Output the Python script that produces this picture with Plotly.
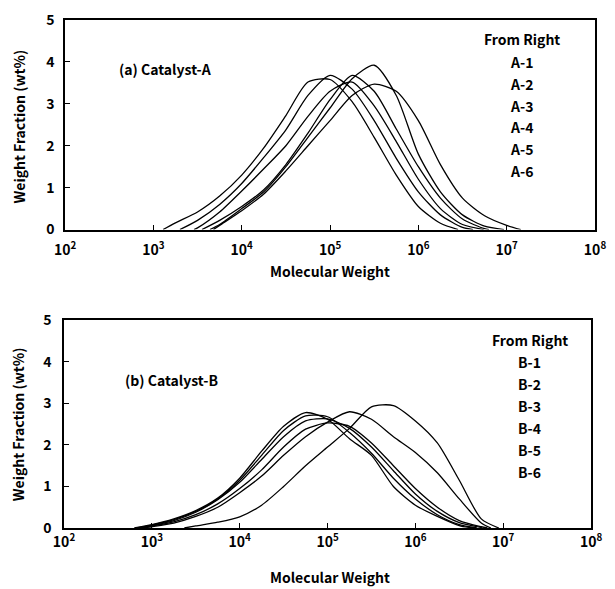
import plotly.graph_objects as go

# log10(molecular weight) grid shared by all curves
log_mw = [3.0, 3.25, 3.5, 3.75, 4.0, 4.25, 4.5, 4.75, 5.0, 5.25,
          5.5, 5.75, 6.0, 6.25, 6.5, 6.75, 7.0]

# Catalyst-A: log10(M) where each curve leaves / returns to the baseline
a_names = ["A-1", "A-2", "A-3", "A-4", "A-5", "A-6"]
a_start = [3.68, 3.64, 3.55, 3.46, 3.30, 3.11]
a_end = [7.16, 6.97, 6.80, 6.74, 6.62, 6.45]
# Catalyst-A weight fractions (wt%) on the grid
a1 = [None, None, None, 0.10, 0.45, 0.85, 1.40, 2.00, 2.60, 3.20, 3.47, 3.30, 2.60, 1.55, 0.75, 0.33, 0.10]
a2 = [None, None, None, 0.12, 0.50, 0.90, 1.50, 2.20, 2.90, 3.60, 3.92, 3.20, 1.80, 0.90, 0.35, 0.08, None]
a3 = [None, None, None, 0.22, 0.55, 0.95, 1.55, 2.30, 3.10, 3.68, 3.30, 2.40, 1.50, 0.75, 0.25, 0.02, None]
a4 = [None, None, 0.04, 0.42, 0.92, 1.45, 2.00, 2.70, 3.30, 3.52, 2.95, 2.10, 1.20, 0.50, 0.12, None, None]
a5 = [None, None, 0.22, 0.60, 1.10, 1.72, 2.38, 3.20, 3.68, 3.35, 2.60, 1.70, 0.90, 0.35, 0.05, None, None]
a6 = [None, 0.16, 0.42, 0.80, 1.30, 1.95, 2.72, 3.52, 3.58, 3.05, 2.20, 1.30, 0.55, 0.15, None, None, None]

# Catalyst-B: baseline crossings and weight fractions (wt%)
b_names = ["B-1", "B-2", "B-3", "B-4", "B-5", "B-6"]
b_start = [3.37, 2.90, 2.86, 2.84, 2.82, 2.80]
b_end = [6.95, 6.86, 6.82, 6.76, 6.70, 6.66]
b1 = [None, None, 0.05, 0.14, 0.27, 0.55, 1.00, 1.50, 1.95, 2.40, 2.92, 2.95, 2.58, 2.05, 1.15, 0.22, None]
b2 = [0.03, 0.12, 0.28, 0.50, 0.85, 1.25, 1.75, 2.20, 2.55, 2.80, 2.62, 2.20, 1.82, 1.33, 0.70, 0.12, None]
b3 = [0.05, 0.15, 0.32, 0.58, 0.95, 1.40, 1.95, 2.38, 2.53, 2.45, 2.05, 1.50, 0.95, 0.50, 0.18, 0.03, None]
b4 = [0.06, 0.18, 0.38, 0.68, 1.10, 1.65, 2.20, 2.58, 2.63, 2.40, 1.95, 1.38, 0.82, 0.40, 0.13, 0.01, None]
b5 = [0.07, 0.20, 0.40, 0.70, 1.15, 1.75, 2.35, 2.70, 2.68, 2.30, 1.80, 1.20, 0.70, 0.32, 0.08, None, None]
b6 = [0.08, 0.22, 0.42, 0.72, 1.20, 1.85, 2.45, 2.78, 2.62, 2.15, 1.75, 1.00, 0.55, 0.28, 0.06, None, None]

x_tick_vals = [1e2, 1e3, 1e4, 1e5, 1e6, 1e7, 1e8]
x_tick_text = ["10<sup>2</sup>", "10<sup>3</sup>", "10<sup>4</sup>", "10<sup>5</sup>",
               "10<sup>6</sup>", "10<sup>7</sup>", "10<sup>8</sup>"]
y_tick_vals = [0, 1, 2, 3, 4, 5]

FONT = "Noto Sans CJK JP"
TXT = dict(family=FONT, size=14, color="black", weight="bold")

fig = go.Figure()


def add_curves(series, starts, ends, names, xa, ya):
    for ys, s, e, nm in zip(series, starts, ends, names):
        lx = [s] + [g for g, w in zip(log_mw, ys) if w is not None and s < g < e] + [e]
        lw = [0.0] + [w for g, w in zip(log_mw, ys) if w is not None and s < g < e] + [0.0]
        fig.add_trace(go.Scatter(
            x=[10 ** v for v in lx], y=lw, name=nm,
            mode="lines", line=dict(color="black", width=1.3, shape="spline", smoothing=0.7),
            xaxis=xa, yaxis=ya, showlegend=False, hoverinfo="x+y+name"))


add_curves([a1, a2, a3, a4, a5, a6], a_start, a_end, a_names, "x", "y")
add_curves([b1, b2, b3, b4, b5, b6], b_start, b_end, b_names, "x2", "y2")

axis_common = dict(showline=True, linecolor="black", linewidth=1.5, mirror=True,
                   ticks="inside", ticklen=5, tickcolor="black", showgrid=False,
                   zeroline=False, tickfont=TXT)

fig.update_layout(
    width=615, height=589,
    margin=dict(l=64, r=9, t=14, b=61),
    plot_bgcolor="white", paper_bgcolor="white",
    font=TXT,
    xaxis=dict(type="log", range=[2, 8], domain=[0.002, 1.0], anchor="y",
               tickvals=x_tick_vals, ticktext=x_tick_text, ticklabelstandoff=7, **axis_common),
    yaxis=dict(range=[0, 5], domain=[0.5875, 1.0], anchor="x",
               tickvals=y_tick_vals, ticklabelstandoff=6, **axis_common),
    xaxis2=dict(type="log", range=[2, 8], domain=[0.0, 0.9926], anchor="y2",
                tickvals=x_tick_vals, ticktext=x_tick_text, **axis_common),
    yaxis2=dict(range=[0, 5], domain=[0.0, 0.4086], anchor="x2",
                tickvals=y_tick_vals, ticklabelstandoff=8, **axis_common),
)

ann = []
# axis titles
for yc in (0.790, 0.204):
    ann.append(dict(text="Weight Fraction (wt%)", xref="paper", yref="paper", x=-0.085, y=yc,
                    xanchor="center", yanchor="middle", textangle=-90, showarrow=False))
for yc in (0.506, -0.097):
    ann.append(dict(text="Molecular Weight", xref="paper", yref="paper", x=0.5, y=yc,
                    xanchor="center", yanchor="middle", showarrow=False))

# panel labels
ann.append(dict(text="(a) Catalyst-A", xref="x", yref="y", x=2.59, y=3.83,
                xanchor="left", yanchor="middle", showarrow=False))
ann.append(dict(text="(b) Catalyst-B", xref="x2", yref="y2", x=2.67, y=3.57,
                xanchor="left", yanchor="middle", showarrow=False))

# key text on the right of each panel
ann.append(dict(text="From Right", xref="x", yref="y", x=7.17, y=4.55, showarrow=False))
for i, nm in enumerate(a_names):
    ann.append(dict(text=nm, xref="x", yref="y", x=7.17, y=4.0 - 0.52 * i, showarrow=False))
ann.append(dict(text="From Right", xref="x2", yref="y2", x=7.30, y=4.52, showarrow=False))
for i, nm in enumerate(b_names):
    ann.append(dict(text=nm, xref="x2", yref="y2", x=7.30, y=4.0 - 0.53 * i, showarrow=False))

fig.update_layout(annotations=ann)
fig.write_html("out.html")
